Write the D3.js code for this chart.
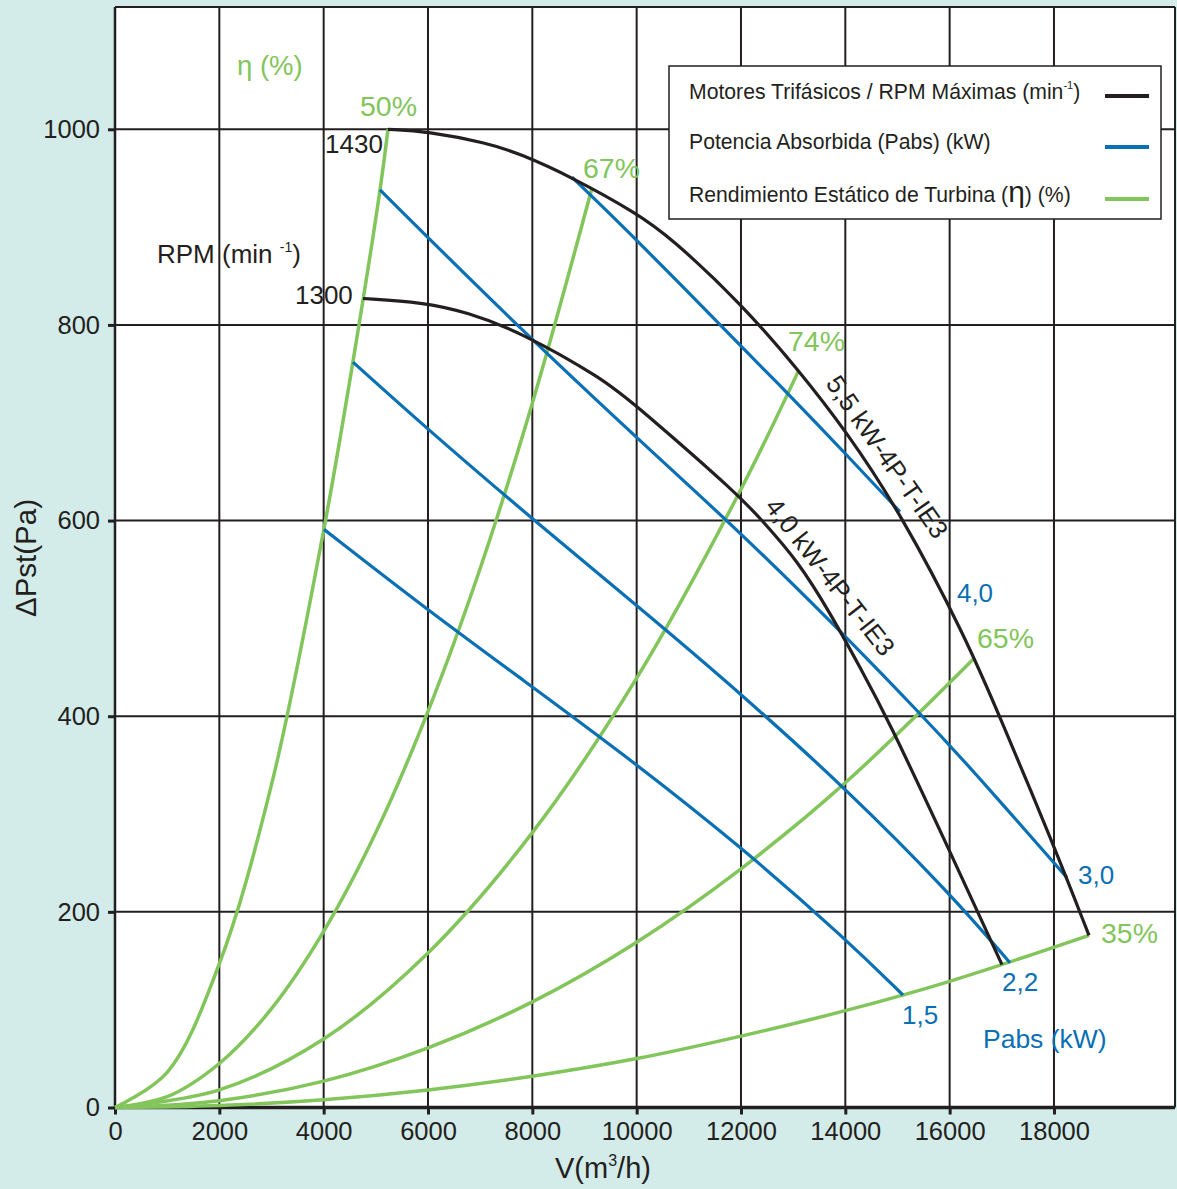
<!DOCTYPE html>
<html><head><meta charset="utf-8">
<script src="https://cdn.jsdelivr.net/npm/d3@7"></script>
<style>
body{margin:0;background:#d3ebe9;}
svg{display:block;font-family:"Liberation Sans",Arial,Helvetica,sans-serif;}
</style>
</head><body>
<svg id="chart" width="1177" height="1189"></svg>
<script>
// ---------- data (V in m3/h, ΔPst in Pa) ----------
const xTicks = [0,2000,4000,6000,8000,10000,12000,14000,16000,18000];
const yTicks = [0,200,400,600,800,1000];
const xMax = 20320, yMax = 1125;

// Motor curves (max RPM)
const rpm1430 = [[5233,1000],[5981,998],[7131,986],[7763,975],[8760,951],[10006,914],[10639,890],[12019,821],[13131,752],[13993,693],[15048,609],[16332,478],[16964,399],[17981,270],[18671,176]];
const rpm1300 = [[4754,827],[5904,823],[6748,813],[7763,793],[9354,745],[10006,717],[11981,625],[12403,600],[13073,560],[13706,506],[14281,450],[14799,399],[15994,263],[17003,146]];

// Absorbed power lines (kW)
const pabs40 = [[8760,951],[10006,887],[12019,777],[12882,731],[13993,669],[15048,609]];
const pabs30 = [[5080,938],[7763,796],[10256,672],[11923,591],[13706,498],[15431,403],[16390,348],[18249,235]];
const pabs22 = [[4562,762],[6000,693],[8013,601],[10256,502],[12019,422],[14032,325],[16006,219],[17156,148]];
const pabs15 = [[4006,591],[5981,509],[7821,437],[9680,364],[12019,266],[14032,171],[15105,115]];

// Static efficiency curves (%)
const eff50 = [[0,0],[1000,36],[2000,147],[3000,330],[4000,590],[4560,762],[5080,938],[5233,1000]];
const eff67 = [[0,0],[1000,11],[2000,45],[3000,101],[4000,180],[5000,281],[6000,405],[7000,551],[8000,720],[9144,940]];
const eff74 = [[0,0],[2000,18],[4000,70],[6000,158],[8000,281],[10000,439],[12000,632],[13093,752]];
const eff65 = [[0,0],[2000,7],[4000,27],[6000,61],[8000,108],[10000,169],[12000,244],[14000,332],[16447,458]];
const eff35 = [[0,0],[2000,2],[4000,8],[6000,18],[8000,32],[10000,50],[12000,73],[14000,99],[16000,129],[18671,176]];

const effLabels = ["50%","67%","74%","65%","35%"];
const pabsLabels = ["4,0","3,0","2,2","1,5"];
const rpmLabels = ["1430","1300"];
const motorLabels = ["5,5 kW-4P-T-IE3","4,0 kW-4P-T-IE3"];
const legendItems = ["Motores Trifásicos / RPM Máximas (min","Potencia Absorbida (Pabs) (kW)","Rendimiento Estático de Turbina ("];

// ---------- layout ----------
const BLACK="#231f20", BLUE="#0a70b5", GREEN="#82c55b";
const svg = d3.select("#chart");
const m = {left:115, top:7, right:1175, bottom:1107.5};
const x = d3.scaleLinear().domain([0,xMax]).range([m.left,m.right]);
const y = d3.scaleLinear().domain([0,yMax]).range([m.bottom,m.top]);

svg.append("rect").attr("width",1177).attr("height",1189).attr("fill","#d3ebe9");
svg.append("rect").attr("x",m.left).attr("y",m.top).attr("width",m.right-m.left).attr("height",m.bottom-m.top).attr("fill","#fff");

// grid
const g = svg.append("g");
g.selectAll(".vg").data(xTicks.slice(1)).join("line")
  .attr("x1",d=>x(d)).attr("x2",d=>x(d)).attr("y1",m.top).attr("y2",m.bottom)
  .attr("stroke",BLACK).attr("stroke-width",2);
g.selectAll(".hg").data(yTicks.slice(1)).join("line")
  .attr("x1",m.left).attr("x2",m.right).attr("y1",d=>y(d)).attr("y2",d=>y(d))
  .attr("stroke",BLACK).attr("stroke-width",2);
g.append("line").attr("x1",m.left).attr("x2",m.right).attr("y1",m.top).attr("y2",m.top).attr("stroke",BLACK).attr("stroke-width",2);
g.append("line").attr("x1",m.right).attr("x2",m.right).attr("y1",m.top).attr("y2",m.bottom).attr("stroke",BLACK).attr("stroke-width",2);

// axes
const ax = svg.append("g").attr("transform",`translate(0,${m.bottom})`)
  .call(d3.axisBottom(x).tickValues(xTicks).tickFormat(d3.format("d")).tickSize(7).tickPadding(7).tickSizeOuter(0));
const ay = svg.append("g").attr("transform",`translate(${m.left},0)`)
  .call(d3.axisLeft(y).tickValues(yTicks).tickFormat(d3.format("d")).tickSize(7).tickPadding(8).tickSizeOuter(0));
[ax,ay].forEach(a=>{
  a.select(".domain").remove();
  a.selectAll(".tick line").attr("stroke",BLACK).attr("stroke-width",3);
  a.selectAll(".tick text").attr("fill",BLACK).attr("font-size",25.5).attr("font-family","Liberation Sans, Arial, sans-serif");
});
svg.append("line").attr("x1",m.left).attr("x2",m.right).attr("y1",m.bottom).attr("y2",m.bottom).attr("stroke",BLACK).attr("stroke-width",3.5);
svg.append("line").attr("x1",m.left).attr("x2",m.left).attr("y1",m.top).attr("y2",m.bottom).attr("stroke",BLACK).attr("stroke-width",2.5);

// axis titles
const xt = svg.append("text").attr("x",603).attr("y",1178).attr("text-anchor","middle").attr("font-size",29).attr("fill",BLACK);
xt.append("tspan").text("V(m");
xt.append("tspan").text("3").attr("font-size",16).attr("dy",-12);
xt.append("tspan").text("/h)").attr("dy",12);
svg.append("text").attr("transform","translate(36,558) rotate(-90)").attr("text-anchor","middle")
  .attr("font-size",29.5).attr("fill",BLACK).text("ΔPst(Pa)");

// curves
const lineC = d3.line().x(d=>x(d[0])).y(d=>y(d[1])).curve(d3.curveCatmullRom.alpha(0.5));
const lineB = d3.line().x(d=>x(d[0])).y(d=>y(d[1])).curve(d3.curveBasis);
const curves = svg.append("g").attr("fill","none").attr("stroke-linecap","butt").attr("stroke-linejoin","round");
[eff50,eff67,eff74,eff65,eff35].forEach(s=>curves.append("path").attr("d",lineC(s)).attr("stroke",GREEN).attr("stroke-width",3.5));
[pabs40,pabs30,pabs22,pabs15].forEach(s=>curves.append("path").attr("d",lineB(s)).attr("stroke",BLUE).attr("stroke-width",3.2));
[rpm1430,rpm1300].forEach(s=>curves.append("path").attr("d",lineB(s)).attr("stroke",BLACK).attr("stroke-width",3.2));

// annotations (anchored in data space)
function lab(txt,v,p,color,size){
  return svg.append("text").attr("x",x(v)).attr("y",y(p)).attr("fill",color).attr("font-size",size).text(txt);
}
lab("η (%)",2339,1055,GREEN,27.5);
const effPos = [[4697,1014],[8971,950],[12901,773],[16524,470],[18901,168]];
effLabels.forEach((t,i)=>lab(t,effPos[i][0],effPos[i][1],GREEN,28.5));
const rpmPos = [[4026,976],[3450,821]];
rpmLabels.forEach((t,i)=>lab(t,rpmPos[i][0],rpmPos[i][1],BLACK,26));
const rpmT = svg.append("text").attr("x",x(805)).attr("y",y(863)).attr("fill",BLACK).attr("font-size",26);
rpmT.append("tspan").text("RPM (min ");
rpmT.append("tspan").text("-1").attr("font-size",14).attr("dy",-11);
rpmT.append("tspan").text(")").attr("dy",11);
const pabsPos = [[16140,517],[18460,228],[17003,119],[15086,85]];
pabsLabels.forEach((t,i)=>lab(t,pabsPos[i][0],pabsPos[i][1],BLUE,26));
lab("Pabs (kW)",16639,61,BLUE,26.5);
const motorPos = [[13610,740,55],[12442,614,52]];
motorLabels.forEach((t,i)=>{
  svg.append("text").attr("transform",`translate(${x(motorPos[i][0])},${y(motorPos[i][1])}) rotate(${motorPos[i][2]})`)
    .attr("fill",BLACK).attr("font-size",26).text(t);
});

// legend
const lg = svg.append("g");
lg.append("rect").attr("x",669).attr("y",66).attr("width",492).attr("height",153).attr("fill","#fff").attr("stroke",BLACK).attr("stroke-width",1.5);
const lcol=[BLACK,BLUE,GREEN], ly=[99,149,202], sy=[96,147,199];
legendItems.forEach((t,i)=>{
  const tx = lg.append("text").attr("x",689).attr("y",ly[i]).attr("font-size",21.2).attr("fill",BLACK);
  tx.append("tspan").text(t);
  if(i===0){ tx.append("tspan").text("-1").attr("font-size",11).attr("dy",-10); tx.append("tspan").text(")").attr("dy",10); }
  if(i===2){ tx.append("tspan").text("η").attr("font-size",30); tx.append("tspan").text(") (%)").attr("font-size",21.2); }
  lg.append("line").attr("x1",1105).attr("x2",1149).attr("y1",sy[i]).attr("y2",sy[i]).attr("stroke",lcol[i]).attr("stroke-width",4);
});
</script>
</body></html>
